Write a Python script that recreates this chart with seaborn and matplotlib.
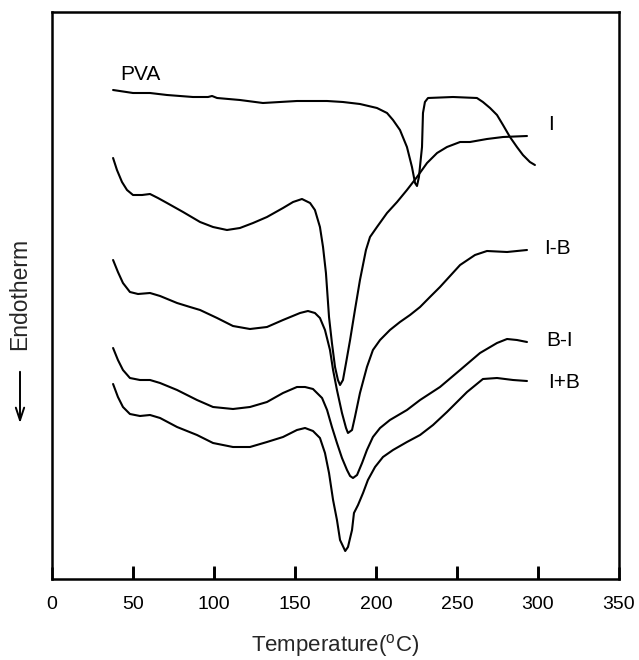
import pandas as pd
import numpy as np
import matplotlib
matplotlib.use("Agg")
import matplotlib.pyplot as plt
import seaborn as sns

# DSC curves (temperature in C, signal in arbitrary units, offset per sample)
pva_T = [37.7, 50, 60.5, 71, 87, 96.3, 98.8, 101.9, 116, 130.2, 140.7, 151.2, 169.8, 179.6,
         190.1, 200.6, 206.8, 210.5, 214.8, 219.1, 222.2, 224.1, 225.3, 226.5, 228.4, 229,
         230.2, 232.1, 247.5, 262.3, 266, 270.4, 274.7, 278.4, 282.7, 287, 290.7, 295, 298.1]
pva_y = [489, 486, 486, 484, 482, 482, 483, 481, 479, 476, 477, 478, 478, 477,
         475, 471, 466, 459, 449, 432, 412, 396, 393, 402, 432, 466,
         477, 481, 482, 481, 477, 471, 464, 454, 442, 432, 424, 417, 414]

i_T = [37.7, 40.1, 43.2, 46.3, 50, 55.6, 60.5, 65.4, 71, 80.9, 91.4, 99.4, 108, 116, 124.1,
       132.7, 142.6, 148.8, 154.3, 159.3, 162.3, 165.4, 167.3, 169.1, 171, 172.8, 174.7, 176.5,
       177.8, 179.6, 181.5, 184, 187, 190.1, 193.8, 196.3, 200.6, 206.8, 213, 219.1, 225.3,
       231.5, 237.7, 243.8, 251.9, 258, 268.5, 278.4, 293.2]
i_y = [421, 409, 397, 389, 384, 384, 385, 381, 376, 367, 357, 352, 349, 351, 356,
       362, 371, 377, 380, 376, 369, 352, 332, 306, 262, 236, 212, 199,
       194, 199, 216, 239, 269, 299, 329, 342, 352, 366, 377, 389, 402,
       416, 426, 432, 437, 437, 440, 442, 443]

ib_T = [37.7, 40.7, 43.8, 48.1, 53.1, 60.5, 66.7, 77.2, 85.2, 91.4, 101.9, 111.7, 122.2, 132.7,
        142.6, 153.1, 158, 162.3, 165.4, 168.5, 171.6, 173.5, 175.9, 179, 181.5, 182.7, 185.2,
        187, 190.1, 194.4, 198.1, 202.5, 208.6, 214.8, 221, 227.2, 233.3, 239.5, 245.7, 251.9,
        261.1, 268.5, 280.9, 293.2]
ib_y = [319, 307, 296, 287, 285, 286, 283, 276, 272, 269, 261, 253, 250, 252,
        259, 266, 268, 266, 261, 249, 229, 209, 189, 166, 151, 146, 149,
        162, 186, 212, 229, 239, 249, 257, 264, 272, 282, 292, 303, 314,
        324, 328, 327, 329]

bi_T = [37.7, 40.7, 43.8, 48.1, 54.3, 60.5, 66.7, 77.2, 89.5, 99.4, 111.7, 122.2, 132.7, 142.6,
        151.2, 156.2, 161.1, 166.7, 169.8, 172.8, 175.9, 179, 182.1, 184, 185.8, 188.3, 191.4,
        194.4, 198.1, 202.5, 208.6, 219.1, 227.2, 239.5, 251.9, 264.2, 274.7, 280.9, 287, 293.2]
bi_y = [231, 219, 209, 201, 199, 199, 196, 189, 179, 172, 170, 172, 177, 186,
        192, 192, 190, 181, 169, 152, 136, 121, 109, 103, 101, 104, 116,
        129, 142, 151, 159, 169, 179, 192, 209, 226, 236, 240, 239, 237]

ipb_T = [37.7, 40.7, 43.8, 48.1, 54.3, 60.5, 66.7, 77.2, 89.5, 99.4, 111.7, 122.2, 132.7,
         142.6, 151.2, 156.2, 161.1, 165.4, 168.5, 171, 173.5, 175.9, 177.8, 181, 182.7, 185.2,
         186.4, 188.9, 192, 195, 199.4, 204.3, 210.5, 219.1, 227.2, 235.2, 243.8, 256.2, 266,
         274.7, 284.6, 293.2]
ipb_y = [195, 182, 172, 165, 163, 164, 161, 152, 144, 136, 132, 132, 137,
         142, 149, 151, 148, 141, 126, 106, 79, 59, 39, 28, 32, 49,
         66, 74, 86, 99, 112, 122, 129, 137, 144, 154, 167, 187, 200,
         201, 199, 198]

samples = ["PVA", "I", "I-B", "B-I", "I+B"]
temps = [pva_T, i_T, ib_T, bi_T, ipb_T]
signals = [pva_y, i_y, ib_y, bi_y, ipb_y]

rows = []
for name, T, y in zip(samples, temps, signals):
    for t, v in zip(T, y):
        rows.append({"sample": name, "T": t, "y": v})
df = pd.DataFrame(rows)

sns.set_style("ticks")
plt.rcParams["font.family"] = ["Liberation Sans", "DejaVu Sans"]
plt.rcParams["mathtext.fontset"] = "custom"
plt.rcParams["mathtext.rm"] = "Liberation Sans"

fig = plt.figure(figsize=(6.39, 6.60), dpi=100)
ax = fig.add_axes([52 / 639, 1 - 579 / 660, 567 / 639, 567 / 660])

sns.lineplot(data=df, x="T", y="y", hue="sample", units="sample", estimator=None,
             sort=False, palette=["black"] * 5, linewidth=1.5, legend=False, ax=ax)

ax.set_xlim(0, 350)
ax.set_ylim(0, 567)
ax.set_xticks([0, 50, 100, 150, 200, 250, 300, 350])
ax.set_yticks([])
ax.set_xlabel("")
ax.set_ylabel("")
for s in ax.spines.values():
    s.set_visible(True)
    s.set_linewidth(1.8)
    s.set_color("black")
ax.tick_params(axis="x", direction="in", length=9, width=1.8, pad=12, labelsize=14,
               color="black", labelcolor="black", bottom=True)

# inward tick marks drawn explicitly at the axis tick positions
inner = [t for t in ax.get_xticks() if 0 < t < 350]
ax.vlines(inner, 0, 13 / 567, transform=ax.get_xaxis_transform(), colors="black",
          linewidth=2.0, clip_on=False, zorder=6)

lab_kw = dict(fontsize=15, color="black", va="center", ha="left")
ax.text(42, 504, "PVA", **lab_kw)
ax.text(306, 454, "I", **lab_kw)
ax.text(304, 331, "I-B", **lab_kw)
ax.text(305, 239, "B-I", **lab_kw)
ax.text(306, 196, "I+B", **lab_kw)

fig.text(335 / 639, 9 / 660, r"Temperature($\mathregular{^o}$C)", ha="center",
         va="baseline", fontsize=16)
fig.text(20 / 639, 366 / 660, "Endotherm", rotation=90, ha="center", va="center",
         fontsize=16.5)
ax.annotate("", xy=(20, 234), xytext=(20, 291), xycoords="figure pixels",
            textcoords="figure pixels",
            arrowprops=dict(arrowstyle="->,head_length=0.9,head_width=0.3", lw=1.4,
                            color="black"))

fig.savefig("out.png", dpi=100)
